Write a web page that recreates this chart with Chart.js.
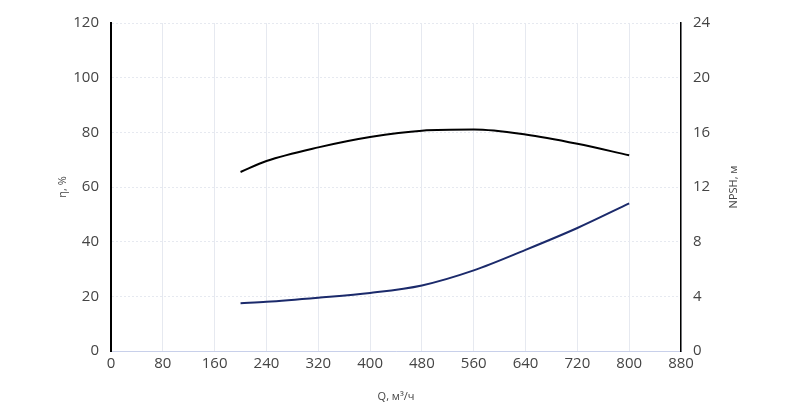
<!DOCTYPE html>
<html>
<head>
<meta charset="utf-8">
<script src="https://cdn.jsdelivr.net/npm/chart.js@4/dist/chart.umd.min.js"></script>
<style>
  html, body { margin: 0; padding: 0; background: #fff; }
  #wrap { width: 800px; height: 408px; }
</style>
</head>
<body>
<div id="wrap"><canvas id="c"></canvas></div>
<script>
// Flow Q, m3/h
const flowQ = [200, 240, 320, 400, 480, 560, 640, 720, 800];
// efficiency, %
const effValues = [65.5, 69.5, 74.5, 78.3, 80.6, 81, 79.2, 75.8, 71.6];
// NPSH, m
const npshValues = [3.5, 3.6, 3.9, 4.25, 4.8, 5.9, 7.4, 9.0, 10.8];

const tickFont = { family: 'Open Sans', size: 15 };
const gridColor = '#e6e9f0';

// axis titles drawn by hand to match the reference placement
const titlesPlugin = {
    id: 'titles',
    afterDraw(chart) {
        const ctx = chart.ctx;
        const a = chart.chartArea;
        const mid = (a.top + a.bottom) / 2;
        ctx.save();
        ctx.fillStyle = '#444';
        ctx.font = '11px "Open Sans"';
        ctx.textAlign = 'center';
        ctx.textBaseline = 'middle';
        ctx.fillText('Q, м³/ч', (a.left + a.right) / 2, 397);
        ctx.translate(63, mid);
        ctx.rotate(-Math.PI / 2);
        ctx.fillText('η, %', 0, 0);
        ctx.restore();
        ctx.save();
        ctx.fillStyle = '#444';
        ctx.font = '11px "Open Sans"';
        ctx.textAlign = 'center';
        ctx.textBaseline = 'middle';
        ctx.translate(734, mid);
        ctx.rotate(-Math.PI / 2);
        ctx.fillText('NPSH, м', 0, 0);
        ctx.restore();
    }
};

new Chart(document.getElementById('c'), {
    type: 'line',
    data: {
        datasets: [
            { label: 'η', data: flowQ.map((q, i) => ({ x: q, y: effValues[i] })), borderColor: '#000', borderWidth: 2, pointRadius: 0, cubicInterpolationMode: 'monotone', yAxisID: 'y' },
            { label: 'NPSH', data: flowQ.map((q, i) => ({ x: q, y: npshValues[i] })), borderColor: '#1b2a6b', borderWidth: 2, pointRadius: 0, cubicInterpolationMode: 'monotone', yAxisID: 'y2' }
        ]
    },
    options: {
        responsive: true,
        maintainAspectRatio: false,
        animation: false,
        layout: { padding: { top: 23, right: 0, left: 0, bottom: 0 } },
        plugins: { legend: { display: false }, tooltip: { enabled: false } },
        scales: {
            x: {
                type: 'linear', min: 0, max: 880,
                ticks: { stepSize: 80, color: '#444', font: tickFont, padding: 4 },
                grid: { color: gridColor, drawTicks: false },
                border: { color: '#c8d0ea' },
                afterFit(s) { s.height = 57; }
            },
            y: {
                position: 'left', min: 0, max: 120,
                ticks: { stepSize: 20, color: '#444', font: tickFont, padding: 12 },
                grid: { color: gridColor, drawTicks: false },
                border: { color: '#000', width: 2, dash: [2, 2] },
                afterFit(s) { s.width = 111; }
            },
            y2: {
                position: 'right', min: 0, max: 24,
                ticks: { stepSize: 4, color: '#444', font: tickFont, padding: 12 },
                grid: { display: false, drawTicks: false },
                border: { color: '#000', width: 1.5 },
                afterFit(s) { s.width = 119; }
            }
        }
    },
    plugins: [titlesPlugin]
});
</script>
</body>
</html>
